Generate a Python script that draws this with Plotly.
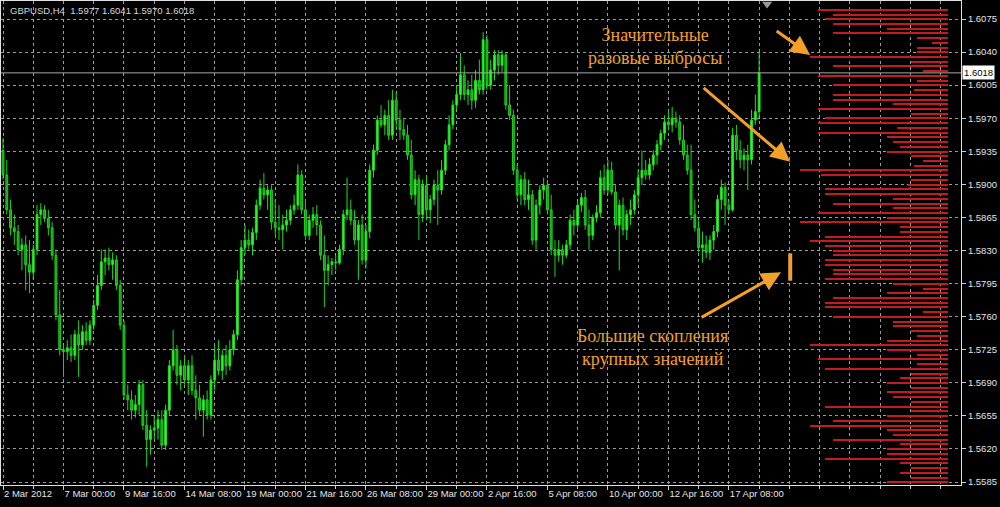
import plotly.graph_objects as go

# ---------------- data ----------------
bar_index = list(range(201))

opens = [1.5936, 1.5910, 1.5873, 1.5854, 1.5850, 1.5831, 1.5836, 1.5815, 1.5807, 1.5831, 1.5868, 1.5873, 1.5864, 1.5854, 1.5825, 1.5762,
         1.5725, 1.5723, 1.5727, 1.5719, 1.5741, 1.5730, 1.5744, 1.5735, 1.5751, 1.5772, 1.5793, 1.5818, 1.5822, 1.5815, 1.5820,
         1.5793, 1.5751, 1.5677, 1.5672, 1.5661, 1.5667, 1.5688, 1.5645, 1.5630, 1.5640, 1.5642, 1.5651, 1.5624, 1.5661, 1.5708,
         1.5725, 1.5698, 1.5708, 1.5693, 1.5708, 1.5682, 1.5674, 1.5661, 1.5672, 1.5656, 1.5693, 1.5714, 1.5703, 1.5719, 1.5708,
         1.5725, 1.5741, 1.5799, 1.5833, 1.5841, 1.5836, 1.5849, 1.5878, 1.5896, 1.5889, 1.5894, 1.5860, 1.5854, 1.5852, 1.5857,
         1.5862, 1.5873, 1.5878, 1.5910, 1.5873, 1.5846, 1.5862, 1.5868, 1.5857, 1.5825, 1.5809, 1.5815, 1.5818, 1.5817, 1.5831,
         1.5868, 1.5873, 1.5862, 1.5841, 1.5857, 1.5820, 1.5850, 1.5915, 1.5936, 1.5968, 1.5963, 1.5973, 1.5952, 1.5989, 1.5968,
         1.5958, 1.5952, 1.5931, 1.5889, 1.5905, 1.5868, 1.5899, 1.5873, 1.5884, 1.5899, 1.5894, 1.5915, 1.5942, 1.5963, 1.5984,
         1.5995, 1.6016, 1.5995, 1.6000, 1.5989, 1.6010, 1.6000, 1.6053, 1.6005, 1.6021, 1.6037, 1.6026, 1.6037, 1.5984, 1.5973,
         1.5915, 1.5889, 1.5905, 1.5884, 1.5889, 1.5841, 1.5878, 1.5894, 1.5899, 1.5873, 1.5831, 1.5825, 1.5831, 1.5825, 1.5836,
         1.5862, 1.5857, 1.5878, 1.5886, 1.5857, 1.5846, 1.5865, 1.5870, 1.5907, 1.5894, 1.5915, 1.5892, 1.5857, 1.5878, 1.5852,
         1.5868, 1.5873, 1.5889, 1.5907, 1.5915, 1.5910, 1.5921, 1.5931, 1.5942, 1.5954, 1.5966, 1.5963, 1.5970, 1.5966, 1.5947,
         1.5931, 1.5915, 1.5868, 1.5854, 1.5833, 1.5836, 1.5828, 1.5841, 1.5850, 1.5884, 1.5897, 1.5878, 1.5873, 1.5952, 1.5936,
         1.5926, 1.5931, 1.5926, 1.5968, 1.5977]

highs = [1.5949, 1.5926, 1.5884, 1.5868, 1.5857, 1.5843, 1.5846, 1.5841, 1.5836, 1.5878, 1.5880, 1.5878, 1.5873, 1.5860, 1.5831, 1.5788,
         1.5730, 1.5735, 1.5741, 1.5746, 1.5756, 1.5751, 1.5754, 1.5756, 1.5778, 1.5804, 1.5831, 1.5831, 1.5833, 1.5828, 1.5825,
         1.5799, 1.5756, 1.5688, 1.5682, 1.5677, 1.5693, 1.5693, 1.5661, 1.5645, 1.5656, 1.5661, 1.5661, 1.5667, 1.5714, 1.5746,
         1.5730, 1.5714, 1.5719, 1.5714, 1.5719, 1.5698, 1.5688, 1.5677, 1.5682, 1.5698, 1.5730, 1.5735, 1.5725, 1.5730, 1.5735,
         1.5746, 1.5809, 1.5841, 1.5857, 1.5852, 1.5854, 1.5884, 1.5905, 1.5912, 1.5899, 1.5899, 1.5884, 1.5878, 1.5868, 1.5873,
         1.5878, 1.5889, 1.5921, 1.5915, 1.5884, 1.5868, 1.5876, 1.5878, 1.5862, 1.5846, 1.5825, 1.5822, 1.5825, 1.5836, 1.5873,
         1.5907, 1.5884, 1.5873, 1.5862, 1.5868, 1.5857, 1.5921, 1.5942, 1.5973, 1.5984, 1.5979, 1.5989, 1.6000, 1.5998, 1.5979,
         1.5970, 1.5963, 1.5947, 1.5915, 1.5910, 1.5905, 1.5910, 1.5889, 1.5905, 1.5915, 1.5926, 1.5947, 1.5973, 1.5989, 1.6005,
         1.6039, 1.6026, 1.6010, 1.6016, 1.6021, 1.6032, 1.6061, 1.6058, 1.6032, 1.6042, 1.6042, 1.6042, 1.6040, 1.6005, 1.5979,
         1.5921, 1.5910, 1.5913, 1.5905, 1.5894, 1.5884, 1.5899, 1.5907, 1.5905, 1.5889, 1.5841, 1.5841, 1.5836, 1.5841, 1.5868,
         1.5873, 1.5884, 1.5891, 1.5894, 1.5873, 1.5868, 1.5878, 1.5915, 1.5921, 1.5926, 1.5924, 1.5899, 1.5884, 1.5886, 1.5873,
         1.5884, 1.5894, 1.5915, 1.5936, 1.5926, 1.5928, 1.5936, 1.5947, 1.5958, 1.5973, 1.5979, 1.5982, 1.5977, 1.5973, 1.5963,
         1.5942, 1.5942, 1.5884, 1.5862, 1.5850, 1.5846, 1.5846, 1.5857, 1.5889, 1.5905, 1.5902, 1.5884, 1.5960, 1.5963, 1.5947,
         1.5938, 1.5942, 1.5979, 1.5995, 1.6041]

lows = [1.5905, 1.5868, 1.5846, 1.5836, 1.5825, 1.5809, 1.5788, 1.5785, 1.5799, 1.5825, 1.5857, 1.5860, 1.5846, 1.5820, 1.5756, 1.5719,
        1.5696, 1.5714, 1.5712, 1.5714, 1.5696, 1.5725, 1.5730, 1.5730, 1.5746, 1.5767, 1.5788, 1.5804, 1.5809, 1.5799, 1.5788,
        1.5746, 1.5672, 1.5661, 1.5651, 1.5653, 1.5656, 1.5640, 1.5601, 1.5614, 1.5630, 1.5630, 1.5619, 1.5619, 1.5656, 1.5703,
        1.5688, 1.5682, 1.5688, 1.5677, 1.5677, 1.5651, 1.5656, 1.5633, 1.5651, 1.5651, 1.5682, 1.5698, 1.5693, 1.5698, 1.5703,
        1.5719, 1.5735, 1.5793, 1.5825, 1.5831, 1.5825, 1.5841, 1.5873, 1.5884, 1.5873, 1.5852, 1.5846, 1.5841, 1.5831, 1.5850,
        1.5857, 1.5868, 1.5873, 1.5868, 1.5841, 1.5841, 1.5854, 1.5846, 1.5820, 1.5770, 1.5793, 1.5804, 1.5809, 1.5815, 1.5825,
        1.5862, 1.5857, 1.5836, 1.5799, 1.5815, 1.5811, 1.5843, 1.5907, 1.5931, 1.5960, 1.5952, 1.5947, 1.5947, 1.5958, 1.5947,
        1.5947, 1.5926, 1.5884, 1.5878, 1.5841, 1.5860, 1.5862, 1.5859, 1.5878, 1.5857, 1.5889, 1.5910, 1.5936, 1.5958, 1.5979,
        1.5989, 1.5989, 1.5984, 1.5979, 1.5981, 1.5995, 1.5995, 1.6000, 1.6000, 1.6010, 1.6016, 1.6019, 1.5979, 1.5968, 1.5910,
        1.5884, 1.5878, 1.5878, 1.5873, 1.5836, 1.5831, 1.5868, 1.5884, 1.5868, 1.5825, 1.5802, 1.5818, 1.5815, 1.5822, 1.5831,
        1.5846, 1.5852, 1.5871, 1.5852, 1.5831, 1.5841, 1.5860, 1.5865, 1.5889, 1.5889, 1.5889, 1.5852, 1.5809, 1.5846, 1.5841,
        1.5857, 1.5868, 1.5878, 1.5899, 1.5905, 1.5905, 1.5915, 1.5921, 1.5936, 1.5947, 1.5958, 1.5955, 1.5960, 1.5942, 1.5926,
        1.5910, 1.5862, 1.5850, 1.5828, 1.5817, 1.5822, 1.5820, 1.5831, 1.5844, 1.5873, 1.5857, 1.5868, 1.5871, 1.5926, 1.5917,
        1.5915, 1.5894, 1.5921, 1.5963, 1.5970]

closes = [1.5910, 1.5873, 1.5854, 1.5850, 1.5831, 1.5836, 1.5815, 1.5807, 1.5831, 1.5868, 1.5873, 1.5864, 1.5854, 1.5825, 1.5762, 1.5725,
          1.5723, 1.5727, 1.5719, 1.5741, 1.5730, 1.5744, 1.5735, 1.5751, 1.5772, 1.5793, 1.5818, 1.5822, 1.5815, 1.5820, 1.5793,
          1.5751, 1.5677, 1.5672, 1.5661, 1.5667, 1.5688, 1.5645, 1.5630, 1.5640, 1.5642, 1.5651, 1.5624, 1.5661, 1.5708, 1.5725,
          1.5698, 1.5708, 1.5693, 1.5708, 1.5682, 1.5674, 1.5661, 1.5672, 1.5656, 1.5693, 1.5714, 1.5703, 1.5719, 1.5708, 1.5725,
          1.5741, 1.5799, 1.5833, 1.5841, 1.5836, 1.5849, 1.5878, 1.5896, 1.5889, 1.5894, 1.5860, 1.5854, 1.5852, 1.5857, 1.5862,
          1.5873, 1.5878, 1.5910, 1.5873, 1.5846, 1.5862, 1.5868, 1.5857, 1.5825, 1.5809, 1.5815, 1.5818, 1.5817, 1.5831, 1.5868,
          1.5873, 1.5862, 1.5841, 1.5857, 1.5820, 1.5850, 1.5915, 1.5936, 1.5968, 1.5963, 1.5973, 1.5952, 1.5989, 1.5968, 1.5958,
          1.5952, 1.5931, 1.5889, 1.5905, 1.5868, 1.5899, 1.5873, 1.5884, 1.5899, 1.5894, 1.5915, 1.5942, 1.5963, 1.5984, 1.5995,
          1.6016, 1.5995, 1.6000, 1.5989, 1.6010, 1.6000, 1.6053, 1.6005, 1.6021, 1.6037, 1.6026, 1.6037, 1.5984, 1.5973, 1.5915,
          1.5889, 1.5905, 1.5884, 1.5889, 1.5841, 1.5878, 1.5894, 1.5899, 1.5873, 1.5831, 1.5825, 1.5831, 1.5825, 1.5836, 1.5862,
          1.5857, 1.5878, 1.5886, 1.5857, 1.5846, 1.5865, 1.5870, 1.5907, 1.5894, 1.5915, 1.5892, 1.5857, 1.5878, 1.5852, 1.5868,
          1.5873, 1.5889, 1.5907, 1.5915, 1.5910, 1.5921, 1.5931, 1.5942, 1.5954, 1.5966, 1.5963, 1.5970, 1.5966, 1.5947, 1.5931,
          1.5915, 1.5868, 1.5854, 1.5833, 1.5836, 1.5828, 1.5841, 1.5850, 1.5884, 1.5897, 1.5878, 1.5873, 1.5952, 1.5936, 1.5926,
          1.5931, 1.5926, 1.5968, 1.5977, 1.6018]

# time-axis labels (one every 16 bars)
xtick_index = [0, 16, 32, 48, 64, 80, 96, 112, 128, 144, 160, 176, 192]
xtick_text = ["2 Mar 2012", "7 Mar 00:00", "9 Mar 16:00", "14 Mar 08:00", "19 Mar 00:00", "21 Mar 16:00",
              "26 Mar 08:00", "29 Mar 00:00", "2 Apr 16:00", "5 Apr 08:00", "10 Apr 00:00", "12 Apr 16:00",
              "17 Apr 08:00"]

# price-axis labels
ytick_vals = [1.5585, 1.5620, 1.5655, 1.5690, 1.5725, 1.5760, 1.5795, 1.5830, 1.5865, 1.5900,
              1.5935, 1.5970, 1.6005, 1.6040, 1.6075]
ytick_text = ["1.5585", "1.5620", "1.5655", "1.5690", "1.5725", "1.5760", "1.5795", "1.5830", "1.5865",
              "1.5900", "1.5935", "1.5970", "1.6005", "1.6040", "1.6075"]

# volume profile (price level -> relative volume)
profile_levels = [1.6085, 1.6080, 1.6075, 1.6070, 1.6065, 1.6060, 1.6055, 1.6050, 1.6045, 1.6040,
                  1.6035, 1.6030, 1.6025, 1.6020, 1.6015, 1.6010, 1.6005, 1.6000, 1.5995, 1.5990,
                  1.5985, 1.5980, 1.5975, 1.5970, 1.5965, 1.5960, 1.5955, 1.5950, 1.5945, 1.5940,
                  1.5935, 1.5930, 1.5925, 1.5920, 1.5915, 1.5910, 1.5905, 1.5900, 1.5895, 1.5890,
                  1.5885, 1.5880, 1.5875, 1.5870, 1.5865, 1.5860, 1.5855, 1.5850, 1.5845, 1.5840,
                  1.5835, 1.5830, 1.5825, 1.5820, 1.5815, 1.5810, 1.5805, 1.5800, 1.5795, 1.5790,
                  1.5785, 1.5780, 1.5775, 1.5770, 1.5765, 1.5760, 1.5755, 1.5750, 1.5745, 1.5740,
                  1.5735, 1.5730, 1.5725, 1.5720, 1.5715, 1.5710, 1.5705, 1.5700, 1.5695, 1.5690,
                  1.5685, 1.5680, 1.5675, 1.5670, 1.5665, 1.5660, 1.5655, 1.5650, 1.5645, 1.5640,
                  1.5635, 1.5630, 1.5625, 1.5620, 1.5615, 1.5610, 1.5605, 1.5600, 1.5595, 1.5590,
                  1.5585, 1.5580]
profile_volume = [87, 77, 82, 77, 41, 77, 21, 11, 21, 21,
                  92, 25, 77, 17, 87, 21, 77, 23, 77, 77,
                  37, 87, 25, 82, 87, 34, 87, 41, 37, 32,
                  41, 25, 17, 23, 99, 85, 25, 27, 82, 82,
                  37, 77, 37, 87, 41, 99, 32, 32, 82, 92,
                  82, 77, 77, 82, 82, 77, 77, 82, 37, 17,
                  41, 77, 82, 82, 17, 77, 37, 37, 25, 21,
                  41, 92, 41, 21, 87, 21, 82, 25, 32, 41,
                  25, 41, 37, 25, 82, 25, 41, 77, 92, 41,
                  37, 77, 32, 41, 41, 82, 32, 25, 32, 25,
                  41, 82]

symbol = "GBPUSD,H4"
last_ohlc = ["1.5977", "1.6041", "1.5970", "1.6018"]
bid_price = 1.6018
cluster_top, cluster_bottom = 1.5827, 1.5798

# ---------------- styling ----------------
FONT = "Liberation Sans, Arial, sans-serif"
SERIF = "Liberation Serif, Times New Roman, serif"
ORANGE = "#f2a02a"
GRID = "#9c9c9c"

fig = go.Figure()

fig.add_trace(go.Bar(
    y=profile_levels, x=profile_volume, orientation="h",
    xaxis="x2", yaxis="y", width=0.00016,
    marker=dict(color="#c41a22", line=dict(width=0)),
    hoverinfo="skip", showlegend=False,
))

fig.add_trace(go.Candlestick(
    x=bar_index, open=opens, high=highs, low=lows, close=closes,
    increasing=dict(line=dict(color="#1fe01f", width=1), fillcolor="#2cff2c"),
    decreasing=dict(line=dict(color="#1fd01f", width=1), fillcolor="#0f9f0f"),
    whiskerwidth=0, showlegend=False,
))

# shift marker at top
fig.add_trace(go.Scatter(
    x=[202.1], y=[1.6091], mode="markers",
    marker=dict(symbol="triangle-down", size=9, color="#9a9a9a"),
    showlegend=False, hoverinfo="skip",
))

fig.update_layout(
    width=1000, height=507,
    margin=dict(l=1, r=39, t=1, b=22),
    paper_bgcolor="black", plot_bgcolor="black",
    font=dict(family=FONT, size=9.5, color="#e6e6e6"),
    xaxis=dict(
        range=[-0.53, 253.4], rangeslider=dict(visible=False),
        tickmode="array", tickvals=xtick_index, ticktext=xtick_text, tickangle=0,
        ticks="outside", ticklen=4, tickcolor="#d0d0d0",
        ticklabelposition="outside right",
        showgrid=True, gridcolor=GRID, griddash="3px,3px", gridwidth=1,
        minor=dict(tick0=0, dtick=8, showgrid=True, gridcolor=GRID, griddash="3px,3px",
                   ticks="outside", ticklen=3, tickcolor="#d0d0d0"),
        showline=True, linecolor="#e0e0e0", linewidth=1, mirror=True,
        zeroline=False, tickfont=dict(size=9.5, color="#e6e6e6"),
    ),
    xaxis2=dict(
        overlaying="x", range=[631.33, -8.67], visible=False, showgrid=False,
        zeroline=False, anchor="y",
    ),
    yaxis=dict(
        side="right", range=[1.558183, 1.609405],
        tickmode="array", tickvals=ytick_vals, ticktext=ytick_text,
        ticks="outside", ticklen=4, tickcolor="#d0d0d0",
        showgrid=True, gridcolor=GRID, griddash="3px,3px", gridwidth=1,
        showline=True, linecolor="#e0e0e0", linewidth=1, mirror=True,
        zeroline=False, tickfont=dict(size=9.5, color="#e6e6e6"),
    ),
    bargap=0,
)

# bid line
fig.add_shape(type="line", xref="paper", x0=0, x1=1, yref="y", y0=bid_price, y1=bid_price,
              line=dict(color="#a8a8a8", width=1))
# cluster marker
fig.add_shape(type="rect", xref="x", x0=207.7, x1=208.75, yref="y", y0=cluster_bottom, y1=cluster_top,
              fillcolor=ORANGE, line=dict(width=0))

annotations = [
    dict(xref="paper", yref="paper", x=0.007, y=0.995, xanchor="left", yanchor="top",
         text=symbol + "  " + " ".join(last_ohlc), showarrow=False,
         font=dict(family=FONT, size=9.5, color="#d8d8d8")),
    dict(xref="paper", yref="y", x=1, y=bid_price, xanchor="left", yanchor="middle", xshift=1,
         text=f"{bid_price:.4f}", showarrow=False, bgcolor="white", borderpad=1,
         font=dict(family=FONT, size=9.5, color="black")),
    dict(xref="x", yref="y", x=172.5, y=1.6046, text="Значительные<br>разовые выбросы",
         showarrow=False, font=dict(family=SERIF, size=18, color=ORANGE)),
    dict(xref="x", yref="y", x=171.7, y=1.5727, text="Большие скопления<br>крупных значений",
         showarrow=False, font=dict(family=SERIF, size=18, color=ORANGE)),
    dict(xref="x", yref="y", x=213.5, y=1.6037, ax=-35, ay=-25, text="", showarrow=True,
         arrowhead=2, arrowsize=1.3, arrowwidth=3, arrowcolor=ORANGE),
    dict(xref="x", yref="y", x=208.2, y=1.5924, ax=-88, ay=-75, text="", showarrow=True,
         arrowhead=2, arrowsize=1.3, arrowwidth=3, arrowcolor=ORANGE),
    dict(xref="x", yref="y", x=205.8, y=1.5807, ax=-81, ay=46, text="", showarrow=True,
         arrowhead=2, arrowsize=1.3, arrowwidth=3, arrowcolor=ORANGE),
]
fig.update_layout(annotations=annotations)

fig.write_html("out.html", config={"displayModeBar": False},
               post_script="document.body.style.margin='0';")
